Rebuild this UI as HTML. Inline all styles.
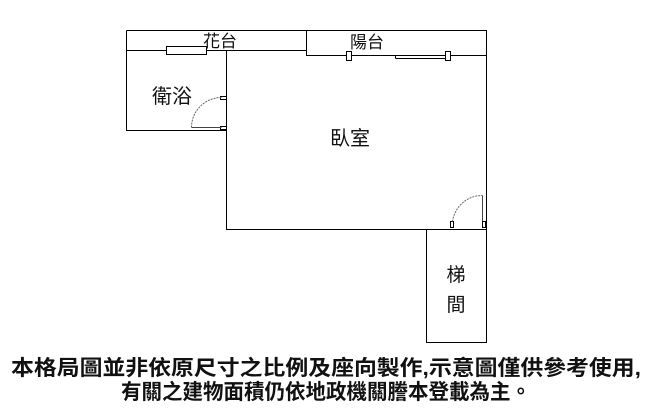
<!DOCTYPE html>
<html><head><meta charset="utf-8"><style>
body{margin:0;background:#fff;width:653px;height:420px;overflow:hidden}
svg{position:absolute;left:0;top:0}
text{font-family:"Liberation Sans","Noto Sans CJK TC",sans-serif;fill:#111}
</style></head><body>
<svg width="653" height="420" viewBox="0 0 653 420">
<g stroke="#000" stroke-width="1" fill="none">
<path d="M126.5 30.5H486.5V229.5"/>
<path d="M126.5 30.5V130.5H226.5"/>
<path d="M126.5 50.5H306.5"/>
<path d="M306.5 30.5V55.5H486.5"/>
<path d="M226.5 50.5V229.5H486.5"/>
<path d="M426.5 229.5V342.5H486.5V229.5"/>
<rect x="166.5" y="46.5" width="40" height="8" fill="#fff"/>
<rect x="346.5" y="51.5" width="5" height="9" fill="#fff"/>
<path d="M351.5 55.5H401.5M395.5 58.5H445.5"/>
<rect x="445.5" y="51.5" width="5" height="9" fill="#fff"/>
<path d="M395.5 55.5V58.5"/>
<rect x="220.5" y="96.5" width="6" height="3" fill="#fff"/>
<rect x="220.5" y="126.5" width="6" height="3" fill="#fff"/>
<path d="M191.5 127.5H221.5" stroke="#444"/>
<path d="M191.5 127.5A30 30 0 0 1 221.5 97.5" stroke="#666" stroke-dasharray="2 1"/>
<path d="M482.5 195.5V225.5" stroke="#444"/>
<rect x="450.5" y="221.5" width="3" height="6"/>
<rect x="482.5" y="221.5" width="3" height="6"/>
<path d="M452.5 221.5A30 30 0 0 1 482.5 195.5" stroke="#666" stroke-dasharray="2 1"/>
</g>
<text x="220" y="47" font-size="17" text-anchor="middle">花台</text>
<text x="367" y="48" font-size="17" text-anchor="middle">陽台</text>
<text x="172" y="103" font-size="20" text-anchor="middle">衛浴</text>
<text x="350" y="145" font-size="20" text-anchor="middle">臥室</text>
<text x="456" y="281" font-size="19" text-anchor="middle">梯</text>
<text x="456" y="311" font-size="19" text-anchor="middle">間</text>
<text x="326" y="375" font-size="21" font-weight="bold" text-anchor="middle" textLength="630" lengthAdjust="spacingAndGlyphs">本格局圖並非依原尺寸之比例及座向製作,示意圖僅供參考使用,</text>
<text x="326" y="399" font-size="21" font-weight="bold" text-anchor="middle" textLength="410" lengthAdjust="spacingAndGlyphs">有關之建物面積仍依地政機關謄本登載為主。</text>
</svg>
</body></html>
